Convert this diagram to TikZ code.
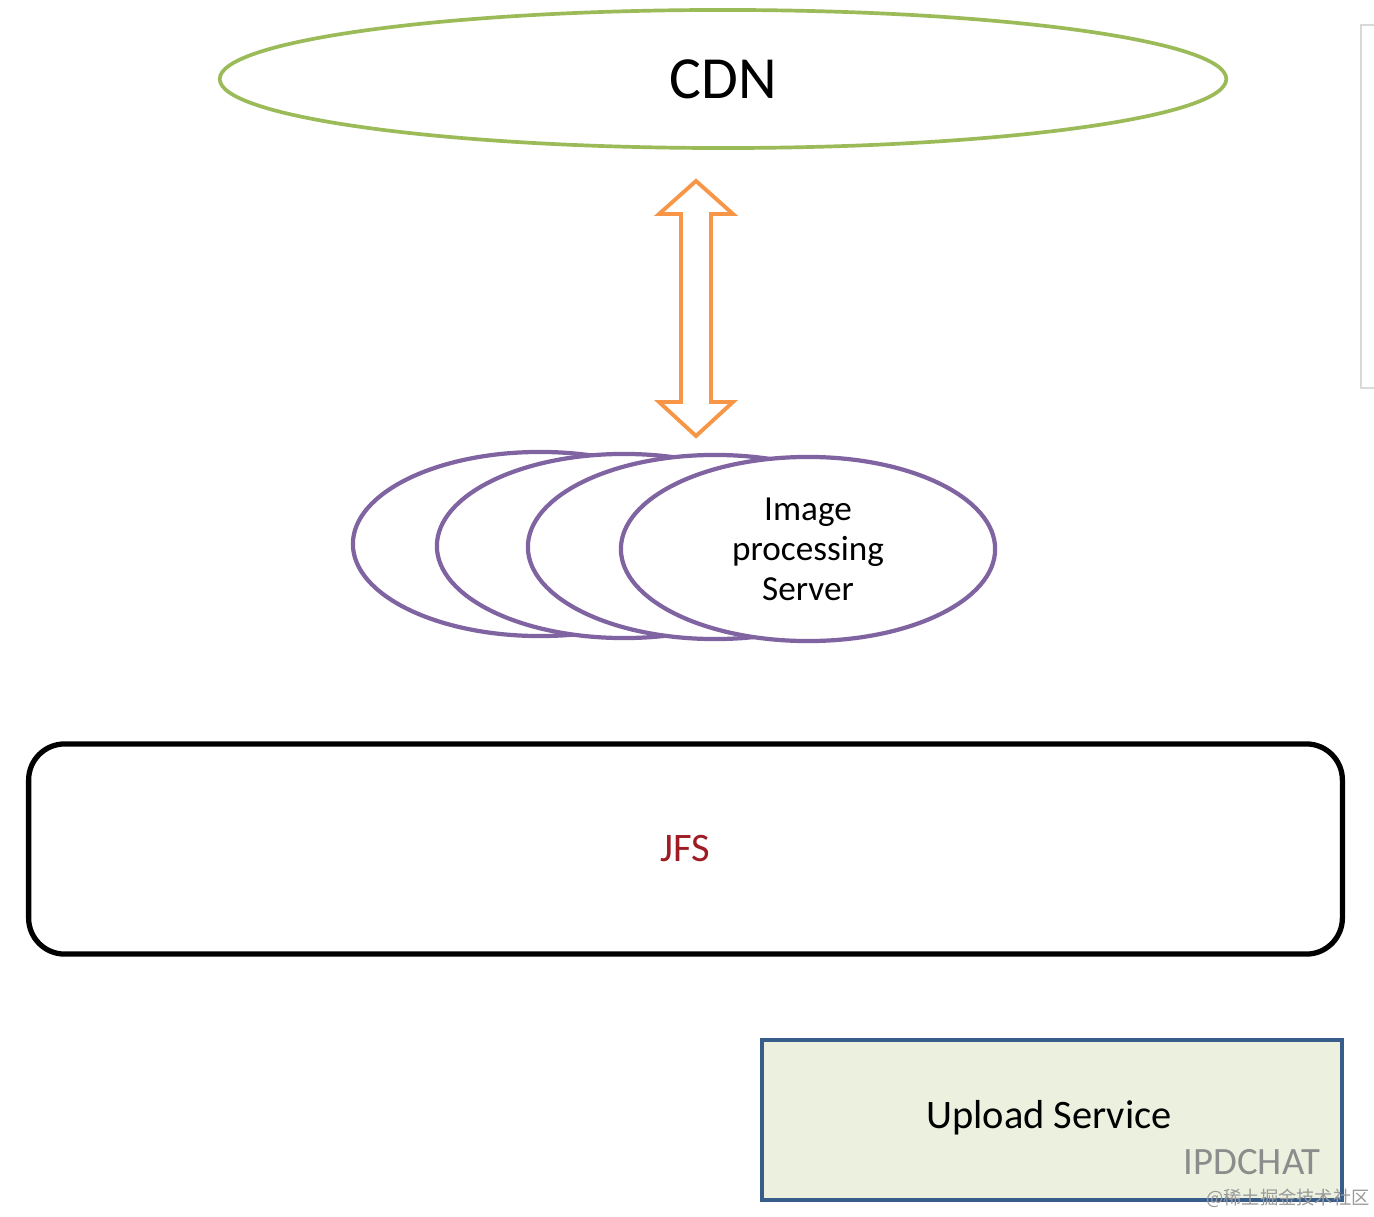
\documentclass[tikz,border=0pt]{standalone}
\usepackage{fontspec}
\setmainfont{Carlito}
\newfontfamily\cjk{Noto Sans CJK SC}
\usetikzlibrary{shapes.geometric}
\definecolor{cdngreen}{HTML}{9BBB59}
\definecolor{arroworange}{HTML}{F79646}
\definecolor{srvpurple}{HTML}{8064A2}
\definecolor{jfsred}{HTML}{A01C24}
\definecolor{upblue}{HTML}{385D8A}
\definecolor{upfill}{HTML}{EBF1DE}
\definecolor{edgegray}{HTML}{D9D9D9}
\begin{document}
\begin{tikzpicture}[x=0.01cm,y=-0.01cm,
  cdnsty/.style={ellipse, draw=cdngreen, line width=1.05pt, minimum width=10.06cm, minimum height=1.38cm, inner sep=0pt},
  srvsty/.style={ellipse, draw=srvpurple, fill=white, line width=1.2pt, minimum width=3.74cm, minimum height=1.84cm, inner sep=0pt},
  arrowsty/.style={draw=arroworange, fill=white, line width=1.1pt, line join=miter},
  jfssty/.style={draw=black, line width=1.5pt, rounded corners=0.36cm, minimum width=13.13cm, minimum height=2.1cm, inner sep=0pt},
  upsty/.style={draw=upblue, fill=upfill, line width=1.2pt, minimum width=5.8cm, minimum height=1.6cm, inner sep=0pt},
  wmsty/.style={text=black!45, inner sep=0pt}
]
\useasboundingbox[fill=white] (0,0) rectangle (1374,1216);
% faint frame edge at right
\draw[edgegray, line width=0.7pt] (1374,25) -- (1361,25) -- (1361,388) -- (1374,388);
% CDN
\node[cdnsty] (cdn) at (723,79) {\fontsize{17}{20}\selectfont CDN};
% double arrow
\coordinate (atop) at (696,181);
\coordinate (abot) at (696,436);
\draw[arrowsty] (atop) -- (733,214) -- (711,214) -- (711,402) -- (733,402) -- (abot)
  -- (659,402) -- (681,402) -- (681,214) -- (659,214) -- cycle;
% image processing servers
\node[srvsty] (s1) at (540,544) {};
\node[srvsty] (s2) at (624,546) {};
\node[srvsty] (s3) at (715,547) {};
\node[srvsty, align=center, font=\fontsize{10}{11.4}\selectfont] (s4) at (808,549) {Image\\processing\\Server};
% JFS
\node[jfssty] (jfs) at (685.5,849) {\color{jfsred}\fontsize{11.5}{14}\selectfont JFS};
% Upload Service
\node[upsty] (up) at (1052,1120) {};
\node[inner sep=0pt] (uptext) at (1049,1118) {\fontsize{11.5}{14}\selectfont Upload Service};
% watermarks
\node[wmsty] (wm) at (1252,1162) {\fontsize{11}{13}\selectfont IPDCHAT};
\node[wmsty, text=black!40] (wm2) at (1288,1198) {\cjk\fontsize{5.2}{6}\selectfont @稀土掘金技术社区};
\end{tikzpicture}
\end{document}
